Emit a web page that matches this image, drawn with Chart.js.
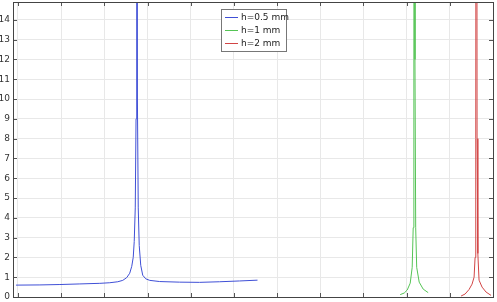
<!DOCTYPE html>
<html>
<head>
<meta charset="utf-8">
<script src="https://cdn.jsdelivr.net/npm/chart.js@4/dist/chart.umd.min.js"></script>
<style>
  html, body { margin: 0; padding: 0; background: #fff; }
  #wrap { width: 497px; height: 302px; position: relative; }
</style>
</head>
<body>
<div id="wrap"><canvas id="grafica"></canvas></div>
<script>
// series names
const etiquetas = ["h=0.5 mm", "h=1 mm", "h=2 mm"];
const colores = ["#3f4fd6", "#55c455", "#d24545"];

// h=0.5 mm
const xAzul = [-0.046, 0.508, 0.971, 1.433, 1.895, 2.126, 2.311, 2.427, 2.519, 2.588, 2.635, 2.669, 2.692, 2.716, 2.734, 2.750, 2.766, 2.785, 2.808, 2.843, 2.889, 2.958, 3.051, 3.282, 3.744, 4.206, 4.668, 5.131, 5.547];
const yAzul = [0.60, 0.61, 0.63, 0.66, 0.69, 0.72, 0.77, 0.84, 0.98, 1.20, 1.55, 2.0, 2.8, 4.5, 9, 60, 10, 4.5, 2.6, 1.6, 1.1, 0.92, 0.84, 0.78, 0.75, 0.74, 0.77, 0.81, 0.85];

// h=1 mm
const xVerde = [8.851, 8.944, 9.013, 9.083, 9.129, 9.152, 9.168, 9.180, 9.193, 9.210, 9.233, 9.291, 9.383, 9.499];
const yVerde = [0.12, 0.20, 0.35, 0.70, 1.5, 3.5, 12, 60, 12, 3.5, 1.5, 0.75, 0.40, 0.22];

// h=2 mm
const xRojo = [10.261, 10.354, 10.446, 10.515, 10.562, 10.585, 10.601, 10.615, 10.631, 10.649, 10.677, 10.747, 10.839, 10.955];
const yRojo = [0.05, 0.15, 0.38, 0.65, 1.0, 2.0, 8, 60, 8, 2.2, 0.85, 0.50, 0.25, 0.08];

// axis ticks
const ticksX = [0, 1, 2, 3, 4, 5, 6, 7, 8, 9, 10, 11];
const ticksY = [0, 1, 2, 3, 4, 5, 6, 7, 8, 9, 10, 11, 12, 13, 14];

function puntos(xs, ys) {
  return xs.map((x, i) => ({ x: x, y: ys[i] }));
}

// marco, marcas hacia dentro y leyenda
const marcoPlugin = {
  id: "marco",
  afterDraw(chart) {
    const ctx = chart.ctx;
    const a = chart.chartArea;
    const sx = chart.scales.x, sy = chart.scales.y;
    ctx.save();
    ctx.strokeStyle = "#555";
    ctx.lineWidth = 1;
    ctx.beginPath();
    ticksX.forEach(v => {
      const px = Math.round(sx.getPixelForValue(v)) + 0.5;
      ctx.moveTo(px, a.bottom); ctx.lineTo(px, a.bottom - 4);
      ctx.moveTo(px, a.top); ctx.lineTo(px, a.top + 4);
    });
    ticksY.forEach(v => {
      const py = Math.round(sy.getPixelForValue(v)) + 0.5;
      ctx.moveTo(a.left, py); ctx.lineTo(a.left + 4, py);
      ctx.moveTo(a.right, py); ctx.lineTo(a.right - 4, py);
    });
    ctx.stroke();
    ctx.strokeStyle = "#444";
    ctx.strokeRect(Math.round(a.left) + 0.5, Math.round(a.top) + 0.5,
      Math.round(a.right - a.left), Math.round(a.bottom - a.top));

    // leyenda
    const lx = 221, ly = 9, lw = 65, lh = 42;
    ctx.fillStyle = "rgba(0,0,0,0.15)";
    ctx.fillRect(lx + 1, ly + 1, lw, lh);
    ctx.fillStyle = "#fff";
    ctx.fillRect(lx, ly, lw, lh);
    ctx.strokeStyle = "#777";
    ctx.strokeRect(lx + 0.5, ly + 0.5, lw, lh);
    ctx.font = "9px 'DejaVu Sans', sans-serif";
    ctx.textBaseline = "middle";
    chart.data.datasets.forEach((d, i) => {
      const yy = ly + 8 + i * 13;
      ctx.strokeStyle = colores[i];
      ctx.beginPath();
      ctx.moveTo(lx + 4, yy + 0.5); ctx.lineTo(lx + 17, yy + 0.5);
      ctx.stroke();
      ctx.fillStyle = "#222";
      ctx.fillText(d.label, lx + 20, yy + 1);
    });
    ctx.restore();
  }
};

new Chart(document.getElementById("grafica"), {
  type: "line",
  data: {
    datasets: [
      { label: etiquetas[0], data: puntos(xAzul, yAzul), borderColor: colores[0] },
      { label: etiquetas[1], data: puntos(xVerde, yVerde), borderColor: colores[1] },
      { label: etiquetas[2], data: puntos(xRojo, yRojo), borderColor: colores[2] }
    ]
  },
  options: {
    responsive: true,
    maintainAspectRatio: false,
    animation: false,
    layout: { padding: { top: 2, right: 4, bottom: 5, left: 0 } },
    elements: {
      point: { radius: 0 },
      line: { borderWidth: 1, tension: 0, fill: false }
    },
    plugins: {
      legend: { display: false },
      tooltip: { enabled: false }
    },
    scales: {
      x: {
        type: "linear",
        min: -0.115,
        max: 11,
        afterBuildTicks: s => { s.ticks = ticksX.map(v => ({ value: v })); },
        afterFit: s => { s.height = 0; s.paddingLeft = 0; s.paddingRight = 0; },
        ticks: { display: false },
        grid: { color: "#e8e8e8", drawTicks: false },
        border: { display: false }
      },
      y: {
        min: 0,
        max: 14.9,
        afterBuildTicks: s => { s.ticks = ticksY.map(v => ({ value: v })); },
        afterFit: s => { s.width = 13; s.paddingTop = 0; s.paddingBottom = 0; },
        ticks: {
          color: "#333",
          padding: 3,
          font: { family: "'DejaVu Sans', sans-serif", size: 9 }
        },
        grid: { color: "#e8e8e8", drawTicks: false },
        border: { display: false }
      }
    }
  },
  plugins: [marcoPlugin]
});
</script>
</body>
</html>
